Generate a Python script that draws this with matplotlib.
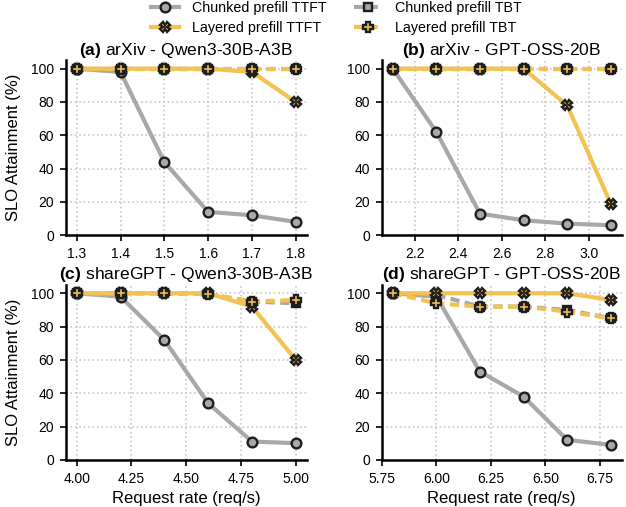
"""
SLO attainment vs request rate: chunked vs layered prefill
"""
import matplotlib
matplotlib.use('Agg')
import matplotlib.pyplot as plt
from matplotlib.lines import Line2D

plt.rcParams['font.family'] = ['Liberation Sans', 'DejaVu Sans']
plt.rcParams['mathtext.fontset'] = 'custom'
plt.rcParams['mathtext.bf'] = 'Liberation Sans:bold'
plt.rcParams['mathtext.rm'] = 'Liberation Sans'

# ###
# data
# ###
titles = [r'$\mathbf{(a)}$ arXiv - Qwen3-30B-A3B',
          r'$\mathbf{(b)}$ arXiv - GPT-OSS-20B',
          r'$\mathbf{(c)}$ shareGPT - Qwen3-30B-A3B',
          r'$\mathbf{(d)}$ shareGPT - GPT-OSS-20B']

rate_a = [1.3, 1.4, 1.5, 1.6, 1.7, 1.8]
rate_b = [2.1, 2.3, 2.5, 2.7, 2.9, 3.1]
rate_c = [4.0, 4.2, 4.4, 4.6, 4.8, 5.0]
rate_d = [5.8, 6.0, 6.2, 6.4, 6.6, 6.8]

xticks_a = [1.3, 1.4, 1.5, 1.6, 1.7, 1.8]
xticks_b = [2.2, 2.4, 2.6, 2.8, 3.0]
xticks_c = [4.00, 4.25, 4.50, 4.75, 5.00]
xticks_d = [5.75, 6.00, 6.25, 6.50, 6.75]
xfmt = ['{:.1f}', '{:.1f}', '{:.2f}', '{:.2f}']

chunked_ttft_a = [100, 98, 44, 14, 12, 8]
layered_ttft_a = [100, 100, 100, 100, 98, 80]
chunked_tbt_a  = [100, 100, 100, 100, 100, 100]
layered_tbt_a  = [100, 100, 100, 100, 100, 100]

chunked_ttft_b = [100, 62, 13, 9, 7, 6]
layered_ttft_b = [100, 100, 100, 100, 78, 19]
chunked_tbt_b  = [100, 100, 100, 100, 100, 100]
layered_tbt_b  = [100, 100, 100, 100, 100, 100]

chunked_ttft_c = [100, 98, 72, 34, 11, 10]
layered_ttft_c = [100, 100, 100, 100, 92, 60]
chunked_tbt_c  = [100, 100, 100, 99.5, 95, 94]
layered_tbt_c  = [100, 100, 100, 99.5, 95, 96]

chunked_ttft_d = [100, 98, 53, 38, 12, 9]
layered_ttft_d = [100, 100, 100, 100, 100, 96]
chunked_tbt_d  = [100, 99, 92, 92, 90, 85]
layered_tbt_d  = [100, 94, 92, 92, 89, 85]

panels = [
    (rate_a, xticks_a, chunked_ttft_a, layered_ttft_a, chunked_tbt_a, layered_tbt_a),
    (rate_b, xticks_b, chunked_ttft_b, layered_ttft_b, chunked_tbt_b, layered_tbt_b),
    (rate_c, xticks_c, chunked_ttft_c, layered_ttft_c, chunked_tbt_c, layered_tbt_c),
    (rate_d, xticks_d, chunked_ttft_d, layered_ttft_d, chunked_tbt_d, layered_tbt_d),
]

# figure variables
GRAY = '#a8a8a8'
GOLD = '#f2c252'
EDGE = '#1e1e1e'
LW = 3.0
DASH = (0, (2.2, 1.3))
MS = 7
MEW = 1.7
AX_POS = [[0.105, 0.536, 0.385, 0.345],
          [0.610, 0.536, 0.383, 0.345],
          [0.105, 0.093, 0.385, 0.345],
          [0.610, 0.093, 0.383, 0.345]]

fig = plt.figure(figsize=(6.26, 5.07), dpi=100, facecolor='w')

for i, (rate, xt, c_ttft, l_ttft, c_tbt, l_tbt) in enumerate(panels):
    ax = fig.add_axes(AX_POS[i])
    ax.plot(rate, c_ttft, color=GRAY, lw=LW, marker='o', ms=MS, mfc=GRAY, mec=EDGE, mew=MEW, zorder=3)
    ax.plot(rate, c_tbt, color=GRAY, lw=LW, ls=DASH, marker='s', ms=MS - 1.5, mfc=GRAY, mec=EDGE, mew=MEW, zorder=3)
    ax.plot(rate, l_ttft, color=GOLD, lw=LW, marker='X', ms=MS, mfc=GOLD, mec=EDGE, mew=MEW, zorder=4)
    ax.plot(rate, l_tbt, color=GOLD, lw=LW, ls=DASH, marker='P', ms=MS, mfc=GOLD, mec=EDGE, mew=MEW, zorder=5)

    ax.set_xticks(xt)
    ax.set_xticklabels([xfmt[i].format(v) for v in xt])
    ax.set_ylim(0, 105)
    ax.set_yticks([0, 20, 40, 60, 80, 100])
    ax.grid(True, ls=':', color='#c8c8c8', lw=1.2)
    ax.set_axisbelow(True)
    for side in ['top', 'right']:
        ax.spines[side].set_visible(False)
    for side in ['left', 'bottom']:
        ax.spines[side].set_linewidth(1.8)
    ax.tick_params(axis='both', labelsize=10, width=1.2, length=4, pad=4.5)
    ax.set_title(titles[i], fontsize=12.6, pad=4)
    if i % 2 == 0:
        ax.set_ylabel('SLO Attainment (%)', fontsize=12, labelpad=7)
    if i >= 2:
        ax.set_xlabel('Request rate (req/s)', fontsize=12)

# legend
handles = [
    Line2D([], [], color=GRAY, lw=LW, marker='o', ms=MS, mfc=GRAY, mec=EDGE, mew=MEW),
    Line2D([], [], color=GOLD, lw=LW, marker='X', ms=MS, mfc=GOLD, mec=EDGE, mew=MEW),
    Line2D([], [], color=GRAY, lw=LW, ls=DASH, marker='s', ms=MS - 1.5, mfc=GRAY, mec=EDGE, mew=MEW),
    Line2D([], [], color=GOLD, lw=LW, ls=DASH, marker='P', ms=MS, mfc=GOLD, mec=EDGE, mew=MEW),
]
labels = ['Chunked prefill TTFT', 'Layered prefill TTFT', 'Chunked prefill TBT', 'Layered prefill TBT']
fig.legend(handles, labels, loc='upper center', bbox_to_anchor=(0.537, 1.0), ncol=2, frameon=False,
           fontsize=10.3, handlelength=2.0, handletextpad=0.85, columnspacing=1.95, labelspacing=0.4,
           borderaxespad=0, borderpad=0.1)

plt.savefig('out.png', dpi=100)
